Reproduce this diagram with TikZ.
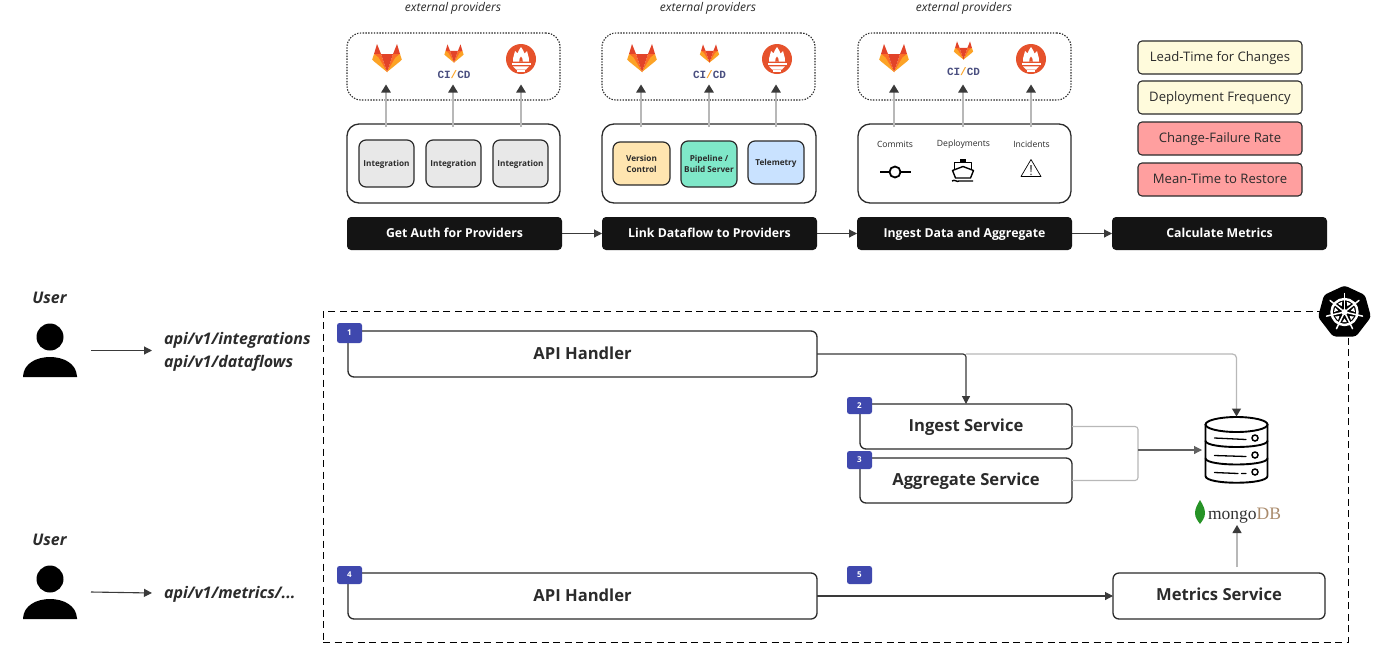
\documentclass[tikz,border=0pt]{standalone}
\usepackage{fontspec}
\setmainfont{Open Sans}
\newfontfamily\mongofont{Liberation Serif}
\newfontfamily\cicdfont{Liberation Mono}
\usetikzlibrary{arrows.meta,calc}
\definecolor{ink}{HTML}{2B2B2B}
\definecolor{arrowdark}{HTML}{3A3A3A}
\definecolor{linegray}{HTML}{B8B8B8}
\definecolor{gred}{HTML}{E24329}
\definecolor{gorange}{HTML}{FC6D26}
\definecolor{glight}{HTML}{FCA326}
\definecolor{prom}{HTML}{E6522C}
\definecolor{badgeblue}{HTML}{3F48AE}
\definecolor{cicd}{HTML}{4A4F80}
\newcommand{\fs}[1]{\fontsize{#1}{#1}\selectfont}
\tikzset{
  x=1pt,y=-1pt,
  box/.style={draw=ink,line width=1.3pt,rounded corners=#1,inner sep=0pt,outer sep=0pt,align=center},
  box/.default=8pt,
  dotbox/.style={draw=ink,line width=1.1pt,dash pattern=on 1.4pt off 1.4pt,rounded corners=14pt,inner sep=0pt,outer sep=0pt},
  bar/.style={fill=black!92,rounded corners=4pt,inner sep=0pt,outer sep=0pt,text=white,font=\fs{12.3}\bfseries,text height=9pt,text depth=1.4pt},
  inner/.style={draw=ink,line width=1.2pt,rounded corners=7pt,inner sep=0pt,outer sep=0pt,align=center,font=\fs{8.2}\bfseries,text=ink},
  onel/.style={text height=7pt,text depth=2pt},
  metric/.style={draw=ink,line width=1.1pt,rounded corners=4pt,inner sep=0pt,outer sep=0pt,font=\fs{13.1},text=ink,text height=10pt,text depth=2pt},
  svc/.style={draw=ink,line width=1.3pt,rounded corners=6pt,inner sep=0pt,outer sep=0pt,font=\fs{16.6}\bfseries,text=ink,text height=12pt,text depth=2.8pt},
  badge/.style={fill=badgeblue,rounded corners=2.5pt,inner sep=0pt,outer sep=0pt,text=white,font=\fs{8}\bfseries},
  lbl/.style={inner sep=0pt,outer sep=0pt,text=ink},
  darrow/.style={draw=arrowdark,line width=1.1pt,-{Triangle[length=8pt,width=8pt]}},
  sarrow/.style={draw=arrowdark,line width=1.1pt,-{Triangle[length=8pt,width=8pt]}},
  pics/gitlab/.style={code={
    \fill[gred] (-13,-4)--(-10,-14)--(-6,-4)--cycle;
    \fill[gred] (13,-4)--(10,-14)--(6,-4)--cycle;
    \fill[gorange] (-13,-4)--(-6,-4)--(0,14)--cycle;
    \fill[gorange] (13,-4)--(6,-4)--(0,14)--cycle;
    \fill[gred] (-6,-4)--(6,-4)--(0,14)--cycle;
    \fill[glight] (-13,-4)--(-14.8,1.5)--(-13.5,3)--(0,14)--(-8.5,-0.5)--cycle;
    \fill[glight] (13,-4)--(14.8,1.5)--(13.5,3)--(0,14)--(8.5,-0.5)--cycle;
  }},
  pics/promicon/.style={code={
    \fill[prom] (0,0) circle[radius=15];
    \fill[white] (-8,2.5) .. controls (-8.5,-3) and (-6,-4) .. (-6,-8)
      .. controls (-4.5,-6.5) and (-4,-6) .. (-3.5,-5.5)
      .. controls (-3,-8) and (-1.2,-10) .. (0,-12)
      .. controls (1.2,-10) and (3,-8) .. (3.5,-5.5)
      .. controls (4,-6) and (4.5,-6.5) .. (6,-8)
      .. controls (6,-4) and (8.5,-3) .. (8,2.5) -- cycle;
    \fill[prom] (-1.8,2.5) .. controls (-2.2,0) and (-.8,-1) .. (0,-2.5)
      .. controls (.8,-1) and (2.2,0) .. (1.8,2.5) -- cycle;
    \fill[white] (-9.5,3.6) rectangle (9.5,6.4);
    \fill[white] (-8,7.4) -- (8,7.4) -- (5,10.5) -- (-5,10.5) -- cycle;
    \fill[white] (-4,11.2) rectangle (4,12.6);
  }}
}
\newcommand{\bx}[7]{\node[#6,minimum width={(#4-#2)*1pt},minimum height={(#5-#3)*1pt}] (#1) at ({(#2+#4)/2},{(#3+#5)/2}) {#7};}
\begin{document}
\begin{tikzpicture}
\useasboundingbox (0,0) rectangle (1383,654);
\fill[white] (0,0) rectangle (1383,654);

% --- external provider panels
\node[lbl,font=\fs{12}\itshape] (ext1) at (453,8.5) {external providers};
\node[lbl,font=\fs{12}\itshape] (ext2) at (708,8.5) {external providers};
\node[lbl,font=\fs{12}\itshape] (ext3) at (964,8.5) {external providers};
\bx{dot1}{347}{33}{560}{100}{dotbox}{}
\bx{dot2}{602}{33}{815}{100}{dotbox}{}
\bx{dot3}{858}{33}{1071}{100}{dotbox}{}

% icons
\pic (fa1) at (387,58) {gitlab};
\pic[scale=.65] (fb1) at (454,53.5) {gitlab};
\node[lbl,font=\cicdfont\fs{11}\bfseries,text=cicd] (cc1) at (454,74.5) {CI\textcolor{glight}{/}CD};
\pic (pa1) at (521,59) {promicon};
\pic (fa2) at (642,58) {gitlab};
\pic[scale=.65] (fb2) at (709.5,53.5) {gitlab};
\node[lbl,font=\cicdfont\fs{11}\bfseries,text=cicd] (cc2) at (709.5,74.5) {CI\textcolor{glight}{/}CD};
\pic (pa2) at (777,59) {promicon};
\pic (fa3) at (894,58) {gitlab};
\pic[scale=.65] (fb3) at (963.5,50.5) {gitlab};
\node[lbl,font=\cicdfont\fs{11}\bfseries,text=cicd] (cc3) at (963.5,71.5) {CI\textcolor{glight}{/}CD};
\pic (pa3) at (1031,59) {promicon};

% --- middle panels
\bx{p1}{347}{124}{560}{203}{box=12pt}{}
\bx{p2}{602}{124}{816}{203}{box=12pt}{}
\bx{p3}{858}{124}{1071}{203}{box=12pt}{}
\bx{i1}{359}{140}{414}{187}{inner,onel,fill=black!9}{Integration}
\bx{i2}{426}{140}{481}{187}{inner,onel,fill=black!9}{Integration}
\bx{i3}{493}{140}{548}{187}{inner,onel,fill=black!9}{Integration}
\definecolor{cvc}{HTML}{FFE5B0}\definecolor{cpb}{HTML}{7FE8C9}\definecolor{ctl}{HTML}{C9E2FF}
\bx{v1}{613}{142}{670}{185}{inner,fill=cvc}{Version\\[2.8pt]Control}
\bx{v2}{681}{141}{737}{187}{inner,fill=cpb}{Pipeline /\\[2.8pt]Build Server}
\bx{v3}{748}{141}{804}{184}{inner,onel,fill=ctl}{Telemetry}

\node[lbl,font=\fs{8.6}] (t1) at (895,144) {Commits};
\node[lbl,font=\fs{8.6}] (t2) at (963.5,144) {Deployments};
\node[lbl,font=\fs{8.6}] (t3) at (1031.5,144) {Incidents};
% commit icon
\draw[black,line width=1.8pt] (880,172)--(889.5,172) (900.5,172)--(911,172);
\draw[black,line width=1.8pt] (895,172) circle[radius=5.5];
% ship icon
\begin{scope}[black,line width=1.4pt,line join=round]
  \draw (954.5,170)--(954.5,162.5)--(971.5,162.5)--(971.5,170);
  \fill (960,159) rectangle (966,162.5);
  \draw (952.5,170.5)--(963,166.5)--(973.5,170.5)--(970.5,178)--(955.5,178)--cycle;
  \draw (952,181) .. controls (955,179) and (957,182.5) .. (959,181) .. controls (961,179.5) and (963,182.5) .. (966,181) .. controls (968,179.5) and (970,182.5) .. (973,181);
\end{scope}
% warning icon
\draw[black,line width=.7pt,line join=round] (1031,159.5)--(1041,176.5)--(1021,176.5)--cycle;
\fill[black!55] (1030,165)--(1032,165)--(1031.6,172)--(1030.4,172)--cycle;
\fill[black!55] (1031,174.3) circle[radius=1];

% gray arrows up to providers
\foreach \n/\p/\x in {a1/p1/386,a2/p1/453,a3/p1/521,b1/p2/641,b2/p2/709,b3/p2/776,c1/p3/894,c2/p3/963,c3/p3/1031}{
  \coordinate (tip\n) at (\x,84.5);
  \draw[draw=linegray,line width=1.1pt,arrows={-Triangle[length=8pt,width=9.5pt,color=arrowdark]}] ([yshift=-3pt]\p.north -| tip\n) -- (tip\n);
}

% --- black bars
\bx{s1}{347}{217}{562}{250}{bar}{Get Auth for Providers}
\bx{s2}{602}{217}{817}{250}{bar}{Link Dataflow to Providers}
\bx{s3}{857}{217}{1072}{250}{bar}{Ingest Data and Aggregate}
\bx{s4}{1112}{217}{1327}{250}{bar}{Calculate Metrics}
\draw[sarrow] (s1)--(s2);
\draw[sarrow] (s2)--(s3);
\draw[sarrow] (s3)--(s4);

% --- metrics
\definecolor{myel}{HTML}{FFFBDC}\definecolor{mred}{HTML}{FF9F9F}
\bx{m1}{1138}{41}{1302}{74}{metric,fill=myel}{Lead-Time for Changes}
\bx{m2}{1138}{81}{1302}{114}{metric,fill=myel}{Deployment Frequency}
\bx{m3}{1138}{122}{1302}{155}{metric,fill=mred}{Change-Failure Rate}
\bx{m4}{1138}{163}{1302}{196}{metric,fill=mred}{Mean-Time to Restore}

% --- cluster
\node[draw=black,line width=1pt,dash pattern=on 7pt off 4.5pt,minimum width=1025pt,minimum height=331pt,inner sep=0pt,outer sep=0pt] (cluster) at (835.5,476.5) {};
% kubernetes
\fill[black,rounded corners=3pt] (1344.5,285.5)--(1365,295)--(1371,317)--(1356,336.5)--(1333,336.5)--(1318,317)--(1324,295)--cycle;
\begin{scope}[shift={(1344.5,312)}]
  \draw[white,line width=2.4pt] (0,0) circle[radius=13];
  \foreach \a in {-90,-38.6,12.9,64.3,115.7,167.1,218.6}{
    \draw[white,line width=1.5pt,line cap=round] (\a:3)--(\a:18.5);
  }
  \fill[white] (0,0) circle[radius=3];
  \foreach \a in {-64.3,-12.9,38.6,90,141.4,192.9,244.3}{
    \fill[white] (\a:6.5) -- (\a+13:10.5) -- (\a-13:10.5) -- cycle;
  }
\end{scope}

% users
\foreach \n/\y in {1/0,2/242}{
  \fill[black] (50,{337+\y}) circle[radius=13.5];
  \fill[black] (23,{377+\y}) -- (23,{376+\y}) .. controls (24,{363+\y}) and (37,{357+\y}) .. (50,{357+\y}) .. controls (63,{357+\y}) and (76,{363+\y}) .. (77,{376+\y}) -- (77,{377+\y}) -- cycle;
}
\node[lbl,font=\fs{16}\bfseries\itshape] (u1) at (49.5,298) {User};
\node[lbl,font=\fs{16}\bfseries\itshape] (u2) at (49.5,540) {User};
\coordinate (ua1) at (91,350.5);
\coordinate (ub1) at (152,350.5);
\coordinate (ua2) at (91,592);
\coordinate (ub2) at (152,593);
\draw[sarrow] (ua1)--(ub1);
\draw[sarrow] (ua2)--(ub2);
\node[lbl,anchor=base west,font=\fs{16}\bfseries\itshape] (e1) at (164,344) {api/v1/integrations};
\node[lbl,anchor=base west,font=\fs{16}\bfseries\itshape] (e2) at (164,367) {api/v1/dataflows};
\node[lbl,anchor=base west,font=\fs{16}\bfseries\itshape] (e3) at (164,598) {api/v1/metrics/...};

% services
\bx{h1}{348}{331}{817}{377}{svc,text depth=1pt}{API Handler}
\bx{ing}{860}{404}{1072}{449}{svc}{Ingest Service}
\bx{agg}{860}{458}{1072}{503}{svc}{Aggregate Service}
\bx{h2}{348}{573}{817}{619}{svc,text depth=1pt}{API Handler}
\bx{ms}{1113}{573}{1325}{619}{svc}{Metrics Service}
\bx{b1}{337}{323}{362}{343}{badge}{1}
\bx{b2}{847}{397}{872}{414}{badge}{2}
\bx{b3}{847}{451}{872}{469}{badge}{3}
\bx{b4}{337}{566}{362}{584}{badge}{4}
\bx{b5}{847}{566}{872}{584}{badge}{5}

% database
\node[inner sep=0pt,outer sep=0pt,minimum width=63pt,minimum height=67pt] (db) at (1236.5,450) {};
\begin{scope}[black,line width=1.9pt,line cap=round]
  \draw (1236.5,424.5) ellipse[x radius=31,y radius=7.5];
  \draw (1205.5,424.5)--(1205.5,476) .. controls (1205.5,485) and (1267.5,485) .. (1267.5,476)--(1267.5,424.5);
  \draw (1205.5,441) .. controls (1207,449) and (1266,449) .. (1267.5,441);
  \draw (1205.5,458.5) .. controls (1207,466.5) and (1266,466.5) .. (1267.5,458.5);
  \draw[line width=1.3pt] (1214.5,438)--(1246,439.5) (1214.5,455.5)--(1246,456.5) (1214.5,472.5)--(1238,473.5) (1241.5,473.5)--(1246,473.5);
  \draw[line width=1.5pt] (1255,438) circle[radius=3] (1255,455) circle[radius=3] (1255,472) circle[radius=3];
\end{scope}

% mongoDB
\node[lbl,font=\mongofont\fs{17.5},anchor=base west] (mongo) at (1208,519) {\textcolor{black!80}{mongo}\textcolor{brown!70!black!70}{DB}};
\fill[green!50!black!85] (1200,500) .. controls (1197,505) and (1195,509) .. (1195,513) .. controls (1195,518) and (1198,521) .. (1200,524) .. controls (1202,521) and (1205,518) .. (1205,513) .. controls (1205,509) and (1203,505) .. (1200,500) -- cycle;

% connectors
\coordinate (jn) at (1138,450);
\coordinate (jh) at (h1.east -| ing.north);
\draw[draw=linegray,line width=1.2pt,rounded corners=4pt,arrows={-Triangle[length=8pt,width=9pt,color=arrowdark]}] (jh) -| (db.north);
\draw[draw=arrowdark,line width=1.2pt,rounded corners=3pt,-{Triangle[length=8pt,width=8pt]}] (h1.east) -| (ing.north);
\draw[linegray,line width=1.1pt,rounded corners=3pt] (ing.east) -| (jn);
\draw[linegray,line width=1.1pt,rounded corners=3pt] (agg.east) -| (jn);
\draw[draw=arrowdark!80,line width=1.1pt,-{Triangle[length=8pt,width=8pt]}] (jn) -- ([xshift=-3pt]db.west);
\coordinate (mtip) at (1237,525);
\draw[draw=linegray,line width=1.2pt,arrows={-Triangle[length=8pt,width=9pt,color=arrowdark]}] ([yshift=6pt]ms.north -| mtip) -- (mtip);
\draw[darrow] (h2.east) -- (ms.west);
\end{tikzpicture}
\end{document}
